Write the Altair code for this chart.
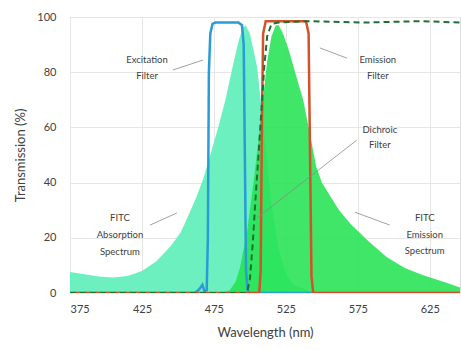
import altair as alt
import pandas as pd

# ---- data ----
abs_nm = [375, 385, 395, 405, 415, 425, 435, 445, 452, 458, 463, 468, 473, 478, 483, 488, 492, 495, 497, 500, 505, 510, 515, 520, 525, 530, 540, 550]
abs_val = [7.6, 6.8, 6.0, 5.6, 6.2, 8.0, 11.5, 17, 22, 29, 35, 42, 51, 60, 70, 82, 91, 96, 97, 94, 82, 58, 32, 16, 7, 3, 1, 0]

em_nm = [480, 486, 490, 493, 498, 503, 508, 512, 515, 518, 520, 523, 527, 532, 537, 542, 546, 550, 556, 562, 570, 583, 595, 608, 620, 635, 646]
em_val = [0, 1, 4, 9, 22, 42, 65, 84, 93, 97, 97, 94, 88, 79, 70, 57, 46, 40, 35, 30, 25, 18.5, 13, 9, 6.5, 4, 2]

exc_nm = [375, 462, 465, 467, 468.5, 470, 470.8, 471.5, 472.5, 474, 476, 492, 494.5, 495.7, 496.5, 497.3, 498.5, 500, 646]
exc_val = [0, 0, 1.5, 3, 0.5, 1, 20, 80, 94, 97.5, 98, 98, 97, 90, 50, 8, 1, 0, 0]

emf_nm = [375, 506.5, 507.5, 508.3, 509.2, 511, 539, 540.8, 541.8, 542.8, 544, 646]
emf_val = [0, 0, 8, 60, 94, 98.5, 98.5, 94, 50, 6, 0, 0]

dic_nm = [375, 498, 500, 502, 504, 506, 508, 510, 512, 515, 520, 540, 580, 620, 646]
dic_val = [0, 0, 5, 18, 35, 50, 66, 82, 93, 97.5, 98, 98.5, 98, 98.5, 98]

label_text = ["Excitation", "Filter", "Emission", "Filter", "Dichroic", "Filter",
              "FITC", "Absorption", "Spectrum", "FITC", "Emission", "Spectrum"]
label_nm = [428.5, 428.5, 588.9, 588.9, 590.3, 590.3, 409.7, 409.7, 409.7, 621.5, 621.5, 621.5]
label_val = [84.4, 78.6, 84.4, 78.6, 59.1, 53.6, 27.2, 21.0, 14.9, 27.2, 21.0, 15.2]

lead_x1 = [446.5, 548.6, 574.3, 430.6, 572.9]
lead_y1 = [80.8, 88.8, 55.4, 24.6, 29.3]
lead_x2 = [467.4, 567.4, 504.9, 449.3, 597.2]
lead_y2 = [84.4, 85.1, 27.2, 29.0, 24.6]

x_ticks = [375, 400, 425, 450, 475, 500, 525, 550, 575, 600, 625]
y_ticks = [0, 10, 20, 30, 40, 50, 60, 70, 80, 90, 100]

# ---- tables ----
absorb = pd.DataFrame({"nm": abs_nm, "v": abs_val})
emis = pd.DataFrame({"nm": em_nm, "v": em_val})
exc = pd.DataFrame({"nm": exc_nm, "v": exc_val})
emf = pd.DataFrame({"nm": emf_nm, "v": emf_val})
dic = pd.DataFrame({"nm": dic_nm, "v": dic_val})
labels = pd.DataFrame({"nm": label_nm, "v": label_val, "t": label_text})
leads = pd.DataFrame({"x1": lead_x1, "y1": lead_y1, "x2": lead_x2, "y2": lead_y2})

FONT = "Lato"
xs = alt.Scale(domain=[375, 646], nice=False, zero=False)
ys = alt.Scale(domain=[0, 100], nice=False)

xax = alt.Axis(values=x_ticks, labelExpr="datum.value % 50 == 25 ? datum.label : ''",
               title="Wavelength (nm)", grid=True, gridColor="#e6e6e6", domain=False,
               ticks=False, labelPadding=10, labelFontSize=11, titleFontSize=13,
               titleFontWeight="normal", titlePadding=12, labelColor="#404040",
               titleColor="#404040", labelFont=FONT, titleFont=FONT)
yax = alt.Axis(values=y_ticks, labelExpr="datum.value % 20 == 0 ? datum.label : ''",
               title="Transmission (%)", grid=True, gridColor="#e6e6e6", domain=False,
               ticks=False, labelPadding=14, labelFontSize=11, titleFontSize=13,
               titleFontWeight="normal", titlePadding=9, labelColor="#404040",
               titleColor="#404040", labelFont=FONT, titleFont=FONT)

base_x = alt.X("nm:Q", scale=xs, axis=xax)
base_y = alt.Y("v:Q", scale=ys, axis=yax)

a_abs = alt.Chart(absorb).mark_area(color="#64efbc", opacity=0.95, clip=True).encode(x=base_x, y=base_y)
a_em = alt.Chart(emis).mark_area(color="#24e352", opacity=0.88, clip=True).encode(x="nm:Q", y="v:Q")
l_exc = alt.Chart(exc).mark_line(color="#2a9bd4", strokeWidth=2.5, clip=True).encode(x="nm:Q", y="v:Q")
l_emf = alt.Chart(emf).mark_line(color="#d2532a", strokeWidth=2.5, clip=True).encode(x="nm:Q", y="v:Q")
l_dic = alt.Chart(dic).mark_line(color="#1f6e33", strokeWidth=2, strokeDash=[6, 4], clip=True).encode(x="nm:Q", y="v:Q")

rules = alt.Chart(leads).mark_rule(color="#8a8a8a", strokeWidth=0.8).encode(
    x="x1:Q", y="y1:Q", x2="x2:Q", y2="y2:Q")
texts = alt.Chart(labels).mark_text(font=FONT, fontSize=9.5, color="#404040", align="center",
                                    baseline="middle").encode(x="nm:Q", y="v:Q", text="t:N")

chart = alt.layer(a_abs, a_em, l_exc, l_emf, l_dic, rules, texts).properties(
    width=390, height=276,
    autosize=alt.AutoSizeParams(type="none"),
    padding={"left": 70, "top": 17, "right": 1, "bottom": 57},
).configure_view(stroke=None).configure(background="white")

chart.save("out.html", embed_options={"renderer": "svg", "actions": False})
